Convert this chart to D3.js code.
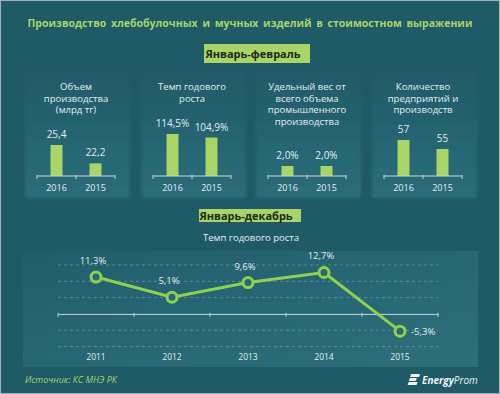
<!DOCTYPE html>
<html>
<head>
<meta charset="utf-8">
<script src="https://cdn.jsdelivr.net/npm/d3@7"></script>
<style>
  html, body { margin: 0; padding: 0; background: #1f5a67; }
  svg { display: block; font-family: "Open Sans", "DejaVu Sans", sans-serif; }
</style>
</head>
<body>
<svg id="chart" width="500" height="394"></svg>
<script>
// Data: January-February panels
const panelTitles = [
    ['Объем', 'производства', '(млрд тг)'],
    ['Темп годового', 'роста'],
    ['Удельный вес от', 'всего объема', 'промышленного', 'производства'],
    ['Количество', 'предприятий и', 'производств']
];
const panelYears = ['2016', '2015'];
const volumeValues = [25.4, 22.2];
const growthValues = [114.5, 104.9];
const shareValues = [2.0, 2.0];
const companyValues = [57, 55];
const panelLabels = [
    ['25,4', '22,2'],
    ['114,5%', '104,9%'],
    ['2,0%', '2,0%'],
    ['57', '55']
];

// Data: January-December line chart
const lineYears = ['2011', '2012', '2013', '2014', '2015'];
const lineValues = [11.3, 5.1, 9.6, 12.7, -5.3];
const lineLabels = ['11,3%', '5,1%', '9,6%', '12,7%', '-5,3%'];
const gridTicks = [-10, -5, 0, 5, 10, 15];

const GREEN = '#a8d468';
const LINE_GREEN = '#8fd14f';
const TEXT = '#e4eef0';
const BG = '#1f5a67';

const svg = d3.select('#chart');
const defs = svg.append('defs');

const grad = defs.append('linearGradient')
    .attr('id', 'panelGrad').attr('x1', 0).attr('y1', 0).attr('x2', 0).attr('y2', 1);
grad.append('stop').attr('offset', '0%').attr('stop-color', '#1f5a67');
grad.append('stop').attr('offset', '100%').attr('stop-color', '#2b6d7a');

const grad2 = defs.append('linearGradient')
    .attr('id', 'plotGrad').attr('x1', 0).attr('y1', 0).attr('x2', 1).attr('y2', 1);
grad2.append('stop').attr('offset', '0%').attr('stop-color', '#215e6b');
grad2.append('stop').attr('offset', '100%').attr('stop-color', '#2e6f7c');

const blur = defs.append('filter').attr('id', 'soft')
    .attr('x', '-10%').attr('y', '-10%').attr('width', '120%').attr('height', '120%');
blur.append('feGaussianBlur').attr('stdDeviation', 1.5);

// Background
svg.append('rect').attr('width', 500).attr('height', 394).attr('fill', BG);
svg.append('rect').attr('x', 0.5).attr('y', 0.5).attr('width', 499).attr('height', 393)
    .attr('fill', 'none').attr('stroke', '#9fb4b8').attr('stroke-width', 1);

// Title - shrink font until it fits the reference width
const title = svg.append('text')
    .attr('x', 250).attr('y', 27)
    .attr('text-anchor', 'middle')
    .attr('fill', GREEN)
    .attr('font-weight', 'bold')
    .attr('font-size', 13)
    .attr('word-spacing', 2)
    .text('Производство хлебобулочных и мучных изделий в стоимостном выражении');
let fs = 13;
while (title.node().getComputedTextLength() > 455 && fs > 8) {
    fs -= 0.25;
    title.attr('font-size', fs);
}

// Badge helper
function badge(x, y, w, h, label) {
    svg.append('rect').attr('x', x).attr('y', y).attr('width', w).attr('height', h).attr('fill', GREEN);
    svg.append('text')
        .attr('x', x + w / 2 - 4).attr('y', y + h / 2 + 4)
        .attr('text-anchor', 'middle')
        .attr('fill', '#1c2a14')
        .attr('font-weight', 'bold')
        .attr('font-size', 11)
        .text(label);
}
badge(204, 44, 106, 19, 'Январь-февраль');

// Bar panels
const panelValues = [volumeValues, growthValues, shareValues, companyValues];
const panelDomains = [[20, 30], [0, 120], [0, 3], [49, 60]];
const panelHeights = [57.4, 44, 15, 49.5];
const panelCenters = [76, 192, 307, 423];
const baseY = 176;

panelValues.forEach((values, i) => {
    const cx = panelCenters[i];
    const g = svg.append('g');

    g.append('rect')
        .attr('x', cx - 51).attr('y', 68).attr('width', 105).attr('height', 130)
        .attr('rx', 3)
        .attr('fill', 'url(#panelGrad)')
        .attr('filter', 'url(#soft)');

    const x = d3.scaleBand().domain(panelYears).range([cx - 39, cx + 39]);
    const y = d3.scaleLinear().domain(panelDomains[i]).range([baseY, baseY - panelHeights[i]]);

    // Title lines
    g.selectAll('.ptitle').data(panelTitles[i]).join('text')
        .attr('x', cx).attr('y', (d, k) => 90 + k * 11.5)
        .attr('text-anchor', 'middle')
        .attr('fill', TEXT)
        .attr('font-size', 9.5)
        .text(d => d);

    // Bars
    g.selectAll('.bar').data(values).join('rect')
        .attr('x', (d, k) => x(panelYears[k]) + x.bandwidth() / 2 - 6)
        .attr('y', d => y(d))
        .attr('width', 12)
        .attr('height', d => baseY - y(d))
        .attr('fill', GREEN);

    // Value labels
    g.selectAll('.val').data(values).join('text')
        .attr('x', (d, k) => x(panelYears[k]) + x.bandwidth() / 2)
        .attr('y', d => y(d) - 7)
        .attr('text-anchor', 'middle')
        .attr('fill', TEXT)
        .attr('font-size', 10)
        .text((d, k) => panelLabels[i][k]);

    // Axis with boundary ticks
    g.append('line')
        .attr('x1', cx - 39).attr('x2', cx + 39).attr('y1', baseY).attr('y2', baseY)
        .attr('stroke', '#c9d6d8').attr('stroke-width', 1);
    const bounds = [cx - 39, cx, cx + 39];
    g.selectAll('.tick').data(bounds).join('line')
        .attr('x1', d => d).attr('x2', d => d)
        .attr('y1', baseY - 1).attr('y2', baseY + 3)
        .attr('stroke', '#c9d6d8');

    g.selectAll('.yr').data(panelYears).join('text')
        .attr('x', d => x(d) + x.bandwidth() / 2)
        .attr('y', 191)
        .attr('text-anchor', 'middle')
        .attr('fill', TEXT)
        .attr('font-size', 9)
        .text(d => d);
});

// Lower section
badge(199, 209, 102, 13, 'Январь-декабрь');

svg.append('text')
    .attr('x', 251).attr('y', 241)
    .attr('text-anchor', 'middle')
    .attr('fill', TEXT)
    .attr('font-size', 9.5)
    .text('Темп годового роста');

svg.append('rect')
    .attr('x', 23).attr('y', 251).attr('width', 455).attr('height', 116)
    .attr('fill', 'url(#plotGrad)');

const lx = d3.scaleBand().domain(lineYears).range([58, 438]);
const ly = d3.scaleLinear().domain([-10, 15]).range([346.5, 265]);
const cxOf = d => lx(d) + lx.bandwidth() / 2;

// Dashed gridlines
svg.selectAll('.grid').data(gridTicks.filter(t => t !== 0)).join('line')
    .attr('x1', 58).attr('x2', 438)
    .attr('y1', d => ly(d)).attr('y2', d => ly(d))
    .attr('stroke', '#6d9ba4')
    .attr('stroke-opacity', 0.7)
    .attr('stroke-dasharray', '3,3');

// Zero axis
const axis = svg.append('g')
    .attr('transform', `translate(0,${ly(0)})`)
    .call(d3.axisBottom(lx).tickSize(0).tickFormat(''));
axis.select('.domain').attr('stroke', '#c9d6d8');
const lineBounds = lineYears.map(d => lx(d)).concat([lx.range()[1]]);
svg.selectAll('.ltick').data(lineBounds).join('line')
    .attr('x1', d => d).attr('x2', d => d)
    .attr('y1', ly(0) - 1).attr('y2', ly(0) + 3)
    .attr('stroke', '#c9d6d8');

// Year labels
svg.selectAll('.lyr').data(lineYears).join('text')
    .attr('x', d => cxOf(d))
    .attr('y', 360)
    .attr('text-anchor', 'middle')
    .attr('fill', TEXT)
    .attr('font-size', 8.5)
    .text(d => d);

// Line
const line = d3.line()
    .x((d, k) => cxOf(lineYears[k]))
    .y(d => ly(d));
svg.append('path')
    .datum(lineValues)
    .attr('d', line)
    .attr('fill', 'none')
    .attr('stroke', LINE_GREEN)
    .attr('stroke-width', 3);

svg.selectAll('.pt').data(lineValues).join('circle')
    .attr('cx', (d, k) => cxOf(lineYears[k]))
    .attr('cy', d => ly(d))
    .attr('r', 5)
    .attr('fill', '#2a6875')
    .attr('stroke', LINE_GREEN)
    .attr('stroke-width', 3);

// Point labels
svg.selectAll('.plbl').data(lineValues).join('text')
    .attr('x', (d, k) => k === lineValues.length - 1 ? cxOf(lineYears[k]) + 11 : cxOf(lineYears[k]) - 3)
    .attr('y', (d, k) => k === lineValues.length - 1 ? ly(d) + 4 : ly(d) - 13)
    .attr('text-anchor', (d, k) => k === lineValues.length - 1 ? 'start' : 'middle')
    .attr('fill', TEXT)
    .attr('font-size', 9.5)
    .text((d, k) => lineLabels[k]);

// Source
svg.append('text')
    .attr('x', 25).attr('y', 383)
    .attr('fill', GREEN)
    .attr('font-style', 'italic')
    .attr('font-size', 9)
    .text('Источник: КС МНЭ РК');

// Logo
const logo = svg.append('g').attr('transform', 'translate(408,374)');
[0, 4, 8].forEach((dy, k) => {
    logo.append('path')
        .attr('d', `M${3 - dy * 0.3},${dy} h${k === 1 ? 7 : 9} l-1,3 h-${k === 1 ? 7 : 9} z`)
        .attr('fill', '#eef3f4');
});
logo.append('text')
    .attr('x', 14).attr('y', 10)
    .attr('fill', '#eef3f4')
    .attr('font-style', 'italic')
    .attr('font-size', 10)
    .html('<tspan font-weight="bold">Energy</tspan>Prom');
</script>
</body>
</html>
